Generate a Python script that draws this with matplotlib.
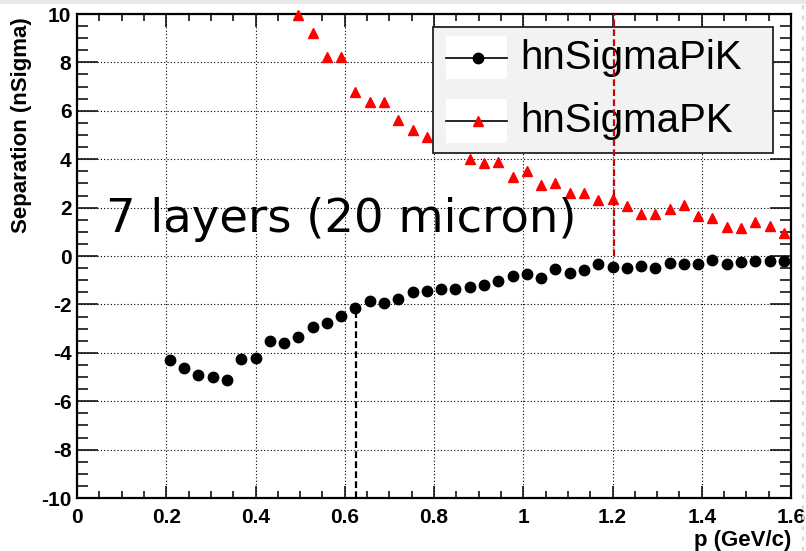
import numpy as np
import matplotlib
matplotlib.use("Agg")
import matplotlib.pyplot as plt
from matplotlib.patches import Rectangle
from matplotlib.lines import Line2D
from matplotlib.ticker import MultipleLocator

plt.rcParams["axes.unicode_minus"] = False

# binning: 50 bins from 0 to 1.6 GeV/c
bin_width = 0.032
first_pik_bin = 6
first_pk_bin = 15

# hnSigmaPiK (black circles), bins 6..49
pik_vals = [-4.31, -4.64, -4.90, -5.01, -5.11, -4.26, -4.21, -3.53, -3.58, -3.36,
            -2.93, -2.77, -2.47, -2.14, -1.87, -1.93, -1.78, -1.50, -1.45, -1.35,
            -1.35, -1.30, -1.21, -1.02, -0.84, -0.74, -0.92, -0.55, -0.70, -0.56,
            -0.34, -0.47, -0.48, -0.43, -0.48, -0.29, -0.33, -0.31, -0.15, -0.34,
            -0.23, -0.22, -0.22, -0.22]

# hnSigmaPK (red triangles), bins 15..49 (two bins hidden behind the legend)
pk_vals = [9.96, 9.20, 8.24, 8.24, 6.76, 6.38, 6.38, 5.62, 5.22, 4.90,
           np.nan, np.nan, 4.01, 3.84, 3.88, 3.25, 3.53, 2.93, 3.02, 2.59,
           2.59, 2.31, 2.36, 2.05, 1.72, 1.72, 1.94, 2.11, 1.67, 1.58,
           1.18, 1.14, 1.39, 1.25, 0.94]

pik_p = (np.arange(len(pik_vals)) + first_pik_bin + 0.5) * bin_width
pk_p = (np.arange(len(pk_vals)) + first_pk_bin + 0.5) * bin_width

# marker lines
black_cut_p, black_cut_y = 0.626, (-10, -2.14)
red_cut_p, red_cut_y = 1.203, (0, 10)

legend_labels = ["hnSigmaPiK", "hnSigmaPK"]
note = "7 layers (20 micron)"

fig = plt.figure(figsize=(8.06, 5.51), dpi=100)
ax = fig.add_axes([77/806, 53/551, 714/806, 484/551])

ax.set_xlim(0, 1.6)
ax.set_ylim(-10, 10)
ax.xaxis.set_major_locator(MultipleLocator(0.2))
ax.xaxis.set_minor_locator(MultipleLocator(0.05))
ax.yaxis.set_major_locator(MultipleLocator(2))
ax.yaxis.set_minor_locator(MultipleLocator(0.5))
ax.set_xticks(np.arange(0, 1.61, 0.2))
ax.set_xticklabels(["0", "0.2", "0.4", "0.6", "0.8", "1", "1.2", "1.4", "1.6"])

ax.grid(True, which="major", color="black", linestyle=(0, (1, 2)), linewidth=0.8, zorder=0)
ax.set_axisbelow(True)

ax.tick_params(axis="both", which="both", direction="in", top=True, right=True, width=1.1)
ax.tick_params(axis="y", which="major", length=15, pad=4)
ax.tick_params(axis="y", which="minor", length=8)
ax.tick_params(axis="x", which="major", length=9, pad=7)
ax.tick_params(axis="x", which="minor", length=5)
for lab in ax.get_xticklabels() + ax.get_yticklabels():
    lab.set_fontfamily("Liberation Sans")
    lab.set_fontweight("bold")
    lab.set_fontsize(15)
for sp in ax.spines.values():
    sp.set_linewidth(1.6)

ax.plot(pik_p, pik_vals, "o", color="black", markersize=7.5, zorder=3, clip_on=False)
ax.plot(pk_p, pk_vals, "^", color="red", markersize=6.5, zorder=3, clip_on=False)

ax.plot([black_cut_p, black_cut_p], black_cut_y, color="black", linestyle=(0, (3, 1.5)),
        linewidth=1.6, zorder=4)
ax.plot([red_cut_p, red_cut_p], red_cut_y, color="#d00000", linestyle=(0, (3, 1.5)),
        linewidth=1.6, zorder=7)

ax.set_xlabel("p (GeV/c)", loc="right", fontsize=16, fontweight="bold", family="Liberation Sans")
ax.xaxis.set_label_coords(1.0, -0.066)
ax.set_ylabel("Separation (nSigma)", loc="top", fontsize=16, fontweight="bold", family="Liberation Sans")
ax.yaxis.set_label_coords(-0.063, 0.994)

ax.text(0.041, 0.5496, note, transform=ax.transAxes, fontsize=33.5,
        family="DejaVu Sans", va="baseline", ha="left", zorder=5)

# legend box, drawn like ROOT's TLegend
tr = ax.transAxes
ax.add_patch(Rectangle((0.4986, 0.7128), 0.4762, 0.2603, transform=tr, facecolor="#f2f2f2",
                       edgecolor="#222222", linewidth=1.3, zorder=6))
rows = [(0.9101, 0.9545, 0.8657, "o", "black", 7.5),
        (0.7789, 0.8244, 0.7335, "^", "red", 6.5)]
for (ly, top, bot, mk, col, ms), lab in zip(rows, legend_labels):
    ax.add_patch(Rectangle((0.5168, bot), 0.0854, top - bot, transform=tr,
                           facecolor="white", edgecolor="none", zorder=6.1))
    ax.add_line(Line2D([0.5168, 0.6022], [ly, ly], transform=tr, color="black",
                       linewidth=1.2, zorder=6.2))
    ax.add_line(Line2D([0.5612], [ly], transform=tr, marker=mk, color=col,
                       markersize=ms, linestyle="none", zorder=6.3))
    ax.text(0.6204, ly, lab, transform=tr, fontsize=29, family="Liberation Sans",
            va="center", ha="left", zorder=6.4)

# screenshot frame remnants
fig.patches.append(Rectangle((0, 1 - 4/551), 1, 4/551, transform=fig.transFigure,
                             facecolor="#e8e8e8", edgecolor="none"))
fig.lines.append(Line2D([803/806, 803/806], [0, 1 - 4/551], transform=fig.transFigure,
                        color="#d8d8d8", linestyle=(0, (2, 3)), linewidth=1.5))

fig.savefig("out.png", dpi=100)
